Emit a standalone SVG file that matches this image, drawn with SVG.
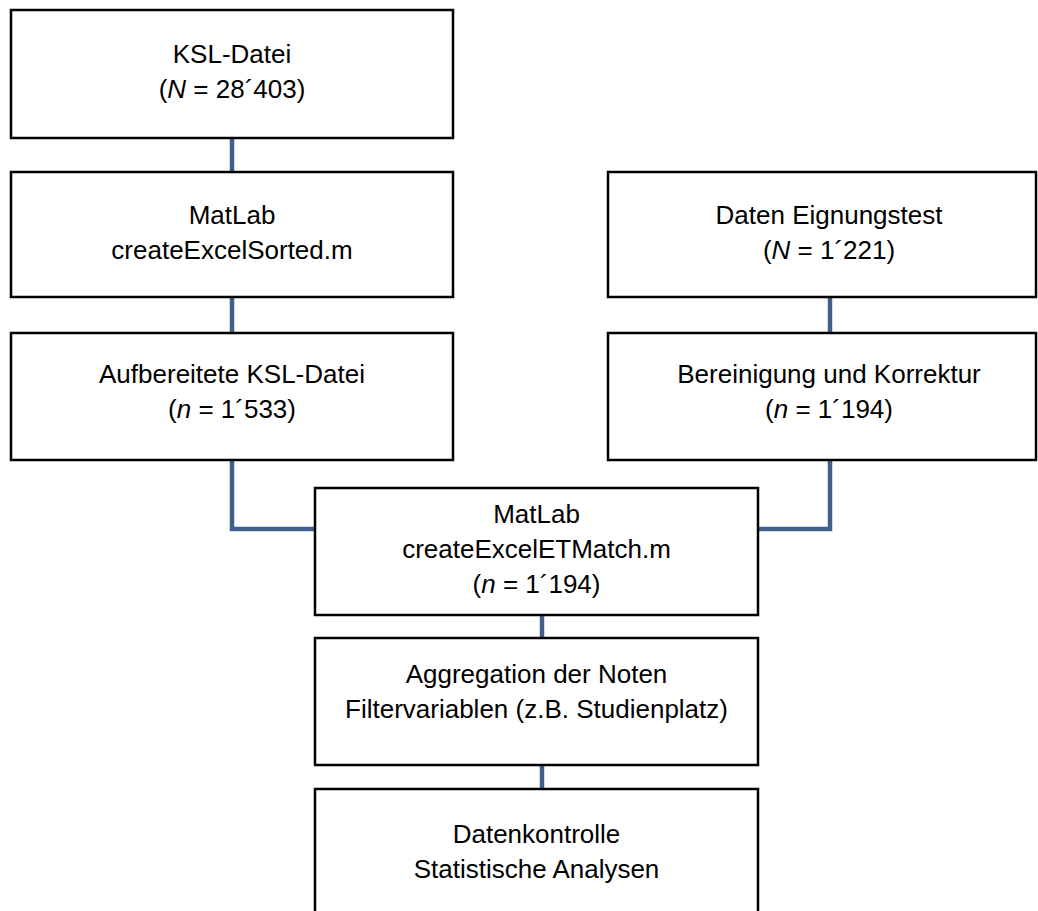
<svg xmlns="http://www.w3.org/2000/svg" width="1038" height="911" viewBox="0 0 1038 911">
<style>
.box{fill:#fff;stroke:#000;stroke-width:2.5}
.t{font-family:"Liberation Sans",Arial,sans-serif;font-size:26px;fill:#000;text-anchor:middle}
.i{font-style:italic}
.c{fill:none;stroke:#41618c;stroke-width:4.5}
</style>
<rect width="1038" height="911" fill="#fff"/>
<g id="connectors">
<path class="c" d="M232,138 V172"/>
<path class="c" d="M232,297 V333"/>
<path class="c" d="M830,297 V333"/>
<path class="c" d="M232,460 V529 H315"/>
<path class="c" d="M830,460 V529 H758"/>
<path class="c" d="M542,615 V638"/>
<path class="c" d="M542,765 V789"/>
</g>
<g id="ksl">
<rect class="box" x="11" y="10" width="442" height="128"/>
<text class="t" x="232" y="63">KSL-Datei</text>
<text class="t" x="232" y="98">(<tspan class="i">N</tspan> = 28´403)</text>
</g>
<g id="matlab1">
<rect class="box" x="11" y="172" width="442" height="125"/>
<text class="t" x="232" y="224">MatLab</text>
<text class="t" x="232" y="259">createExcelSorted.m</text>
</g>
<g id="eignung">
<rect class="box" x="608" y="172" width="428" height="125"/>
<text class="t" x="829" y="224">Daten Eignungstest</text>
<text class="t" x="829" y="259">(<tspan class="i">N</tspan> = 1´221)</text>
</g>
<g id="aufbereitet">
<rect class="box" x="11" y="333" width="442" height="127"/>
<text class="t" x="232" y="383">Aufbereitete KSL-Datei</text>
<text class="t" x="232" y="418">(<tspan class="i">n</tspan> = 1´533)</text>
</g>
<g id="bereinigung">
<rect class="box" x="608" y="333" width="428" height="127"/>
<text class="t" x="829" y="383">Bereinigung und Korrektur</text>
<text class="t" x="829" y="418">(<tspan class="i">n</tspan> = 1´194)</text>
</g>
<g id="matlab2">
<rect class="box" x="315" y="488" width="443" height="127"/>
<text class="t" x="536.5" y="523">MatLab</text>
<text class="t" x="536.5" y="558">createExcelETMatch.m</text>
<text class="t" x="536.5" y="593">(<tspan class="i">n</tspan> = 1´194)</text>
</g>
<g id="aggregation">
<rect class="box" x="315" y="638" width="443" height="127"/>
<text class="t" x="536.5" y="683">Aggregation der Noten</text>
<text class="t" x="536.5" y="718">Filtervariablen (z.B. Studienplatz)</text>
</g>
<g id="kontrolle">
<rect class="box" x="315" y="789" width="443" height="140"/>
<text class="t" x="536.5" y="843">Datenkontrolle</text>
<text class="t" x="536.5" y="878">Statistische Analysen</text>
</g>
</svg>
